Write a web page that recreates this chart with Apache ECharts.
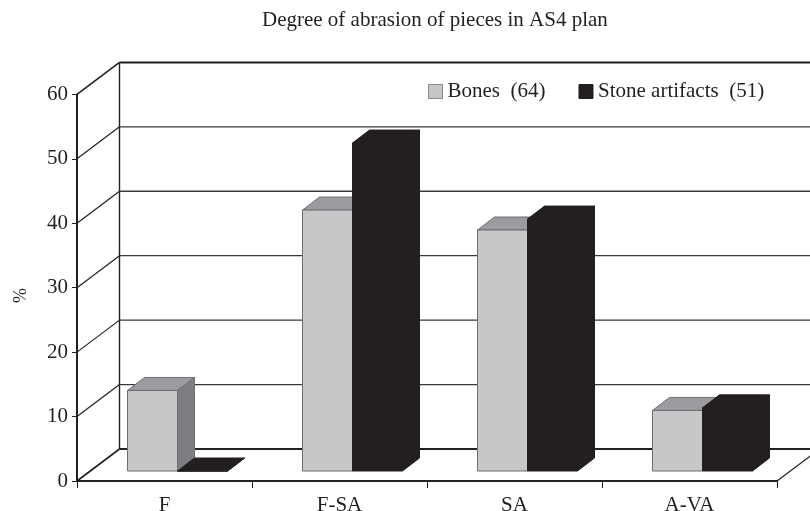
<!DOCTYPE html>
<html>
<head>
<meta charset="utf-8">
<style>html,body{margin:0;padding:0;background:#fff}#c{width:810px;height:511px}</style>
<script src="https://cdn.jsdelivr.net/npm/echarts@6/dist/echarts.min.js"></script>
</head>
<body>
<div id="c"></div>
<script>
var categories = ['F', 'F-SA', 'SA', 'A-VA'];
var bones = [12.5, 40.5, 37.4, 9.4];
var stone = [0, 50.9, 39.1, 9.8];
var yTicks = [0, 10, 20, 30, 40, 50, 60];
var titleText = 'Degree of abrasion of pieces in AS4 plan';
var bonesName = 'Bones  (64)';
var stoneName = 'Stone artifacts  (51)';

var FONT = '"Liberation Serif", "Times New Roman", serif';
var INK = '#231f20';
var WALL = { dx: 42.5, dy: -32 };
var BAR_FRONT = { dx: 13, dy: -10 };
var BAR_DEPTH = { dx: 17, dy: -13 };
var BAR_SHARE = 50 / 175;

function wallItem(params, api) {
  var v = api.value(0);
  var g = params.coordSys;
  var p = api.coord([0, v]);
  var y = p[1];
  var x0 = g.x, x1 = g.x + g.width;
  var edge = (v === 0 || v === 60);
  var w = edge ? 2 : 1.3;
  var lineStyle = { stroke: edge ? INK : '#3a3a3c', lineWidth: w, fill: null };
  var children = [
    { type: 'line', shape: { x1: x0 + WALL.dx, y1: y + WALL.dy, x2: x1 + WALL.dx, y2: y + WALL.dy }, style: lineStyle },
    { type: 'line', shape: { x1: x0, y1: y, x2: x0 + WALL.dx, y2: y + WALL.dy },
      style: { stroke: INK, lineWidth: edge ? 1.6 : 1.2, fill: null } }
  ];
  if (v === 0) {
    children.push({ type: 'line', shape: { x1: x1, y1: y, x2: x1 + WALL.dx, y2: y + WALL.dy },
      style: { stroke: INK, lineWidth: 1.2, fill: null } });
    children.push({ type: 'line', shape: { x1: x0 + WALL.dx, y1: y + WALL.dy, x2: x0 + WALL.dx, y2: api.coord([0, 60])[1] + WALL.dy },
      style: { stroke: INK, lineWidth: 1.4, fill: null } });
  }
  return { type: 'group', children: children };
}

function barItem(side, colors) {
  return function (params, api) {
    var c = api.coord([api.value(0), api.value(1)]);
    var base = api.coord([api.value(0), 0]);
    var band = api.size([1, 0])[0];
    var w = band * BAR_SHARE;
    var l = c[0] + (side === 0 ? -w : 0) + BAR_FRONT.dx;
    var r = l + w;
    var t = c[1] + BAR_FRONT.dy;
    var b = base[1] + BAR_FRONT.dy;
    var ddx = BAR_DEPTH.dx, ddy = BAR_DEPTH.dy;
    var s = colors.stroke;
    return {
      type: 'group',
      children: [
        { type: 'polygon', shape: { points: [[r, t], [r + ddx, t + ddy], [r + ddx, b + ddy], [r, b]] },
          style: { fill: colors.side, stroke: s, lineWidth: 1 } },
        { type: 'polygon', shape: { points: [[l, t], [l + ddx, t + ddy], [r + ddx, t + ddy], [r, t]] },
          style: { fill: colors.top, stroke: s, lineWidth: 1 } },
        { type: 'rect', shape: { x: l, y: t, width: w, height: b - t },
          style: { fill: colors.front, stroke: s, lineWidth: 1 } }
      ]
    };
  };
}

var chart = echarts.init(document.getElementById('c'), null, { renderer: 'canvas' });
chart.setOption({
  animation: false,
  backgroundColor: '#fff',
  title: {
    text: titleText, left: 257, top: 5,
    textStyle: { fontFamily: FONT, fontSize: 21, fontWeight: 'normal', color: INK }
  },
  grid: { left: 77, right: 33, top: 94.4, bottom: 30, outerBoundsMode: 'none' },
  legend: {
    left: 423, top: 76, itemWidth: 14, itemHeight: 14, itemGap: 33,
    icon: 'rect',
    itemStyle: { borderWidth: 1 },
    textStyle: { fontFamily: FONT, fontSize: 21, color: INK },
    data: [bonesName, stoneName]
  },
  xAxis: {
    type: 'category', data: categories,
    axisLine: { lineStyle: { color: INK, width: 2 } },
    axisTick: { show: true, length: 7, lineStyle: { color: INK, width: 1 } },
    axisLabel: { fontFamily: FONT, fontSize: 21, color: INK, margin: 14 }
  },
  yAxis: {
    type: 'value', min: 0, max: 60, interval: 10,
    axisLine: { show: true, lineStyle: { color: INK, width: 2 } },
    axisTick: { show: true, length: 5, lineStyle: { color: INK, width: 1 } },
    axisLabel: { fontFamily: FONT, fontSize: 21, color: INK, margin: 9 },
    splitLine: { show: false }
  },
  graphic: [{
    type: 'text', x: 21, y: 295.5, rotation: Math.PI / 2,
    style: { text: '%', font: '18px ' + FONT, fill: INK, textAlign: 'center', textVerticalAlign: 'middle' }
  }],
  series: [
    { type: 'custom', name: 'walls', silent: true, z: 1, clip: false,
      coordinateSystem: 'cartesian2d', encode: { y: 0 }, data: yTicks.map(function (v) { return [v]; }),
      renderItem: wallItem },
    { type: 'custom', name: bonesName, z: 3, clip: false, coordinateSystem: 'cartesian2d',
      itemStyle: { color: '#c6c7c9', borderColor: '#8a8b8d', borderWidth: 1 },
      encode: { x: 0, y: 1 }, data: categories.map(function (c, i) { return [i, bones[i]]; }),
      renderItem: barItem(0, { front: '#c6c7c9', top: '#9b9c9f', side: '#7d7e82', stroke: '#6d6e70' }) },
    { type: 'custom', name: stoneName, z: 4, clip: false, coordinateSystem: 'cartesian2d',
      itemStyle: { color: INK, borderColor: INK, borderWidth: 1 },
      encode: { x: 0, y: 1 }, data: categories.map(function (c, i) { return [i, stone[i]]; }),
      renderItem: barItem(1, { front: INK, top: INK, side: INK, stroke: INK }) }
  ]
});
</script>
</body>
</html>
